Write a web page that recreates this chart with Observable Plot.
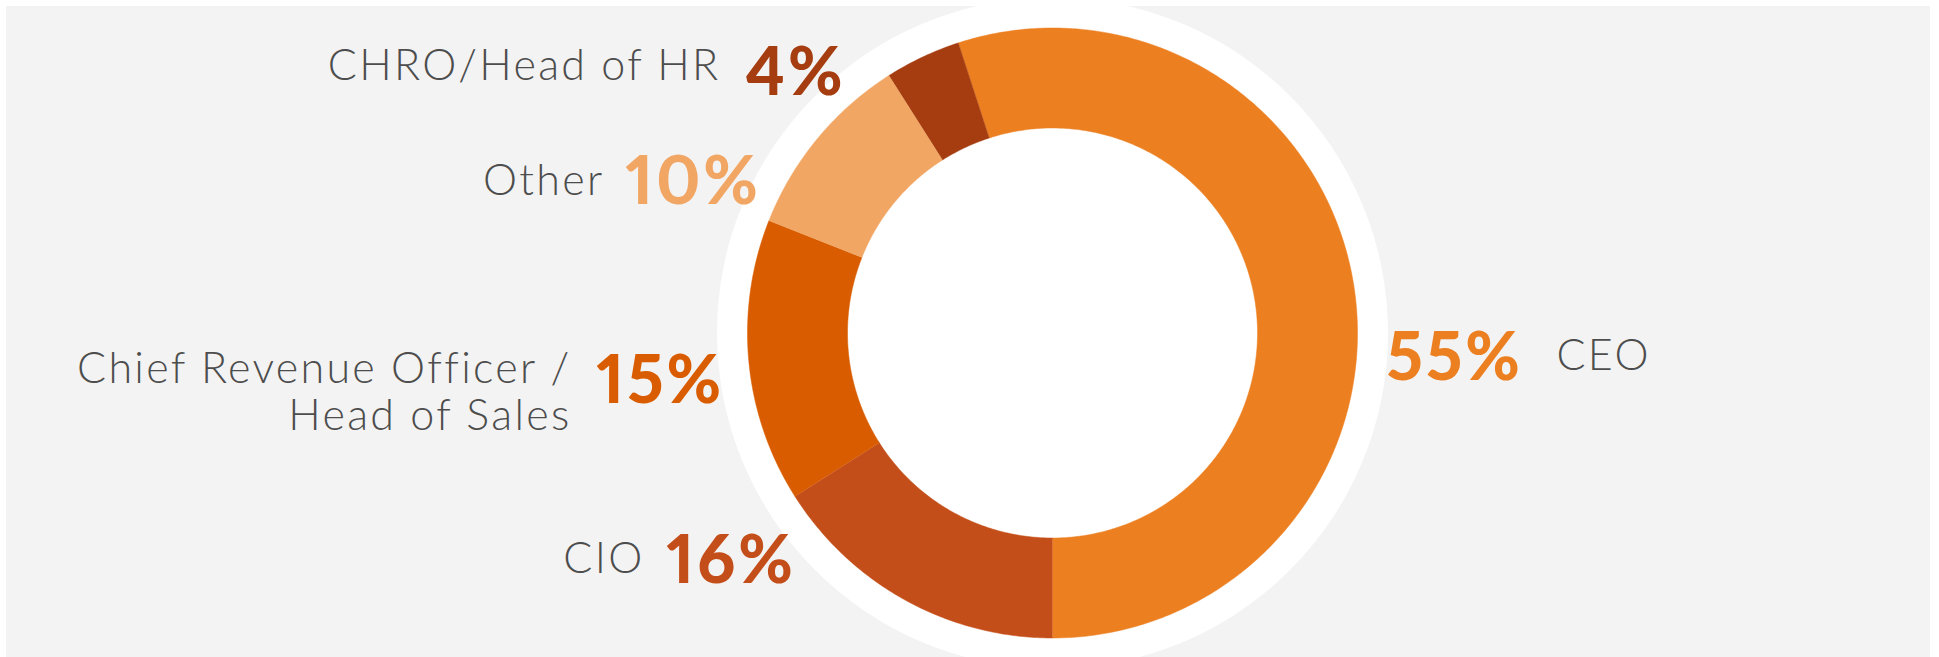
<!DOCTYPE html>
<html><head><meta charset="utf-8">
<script src="https://cdn.jsdelivr.net/npm/d3@7"></script>
<script src="https://cdn.jsdelivr.net/npm/@observablehq/plot@0.6"></script>
<style>
html,body{margin:0;padding:0;background:#fff;}
#chart{position:absolute;left:6px;top:6px;}
#chart g[font-weight="900"] text{letter-spacing:3px;font-variant-numeric:proportional-nums;font-feature-settings:"pnum" 1;}
#chart g[font-weight="300"] text{letter-spacing:2.3px;}
</style></head><body><div id="chart"></div>
<script>
// ---- data ----
const categories = ["CEO", "CIO", "Chief Revenue Officer /\nHead of Sales", "Other", "CHRO/Head of HR"];
const values = [55, 16, 15, 10, 4];
const pctLabels = ["55%", "16%", "15%", "10%", "4%"];
const colors = ["#EC7F20", "#C44E19", "#D95D00", "#F2A664", "#A53D10"];

// ---- layout (pixels within the SVG) ----
const W = 1924, H = 651;
const cx = 1046, cy = 326.5;
const rOuter = 305, rInner = 205, rHalo = 335.5;
const startDeg = -18;
// label anchors: [pctX, pctBaseline, labelX, labelBaseline, side]
const labelLayout = [
  [1380, 373, 1550, 363, "right"],
  [660, 576, 638, 566, "left"],
  [590, 396, 565, 423, "left"],
  [619, 197, 598, 188, "left"],
  [739, 88, 714, 73, "left"]
];

const total = d3.sum(values);
const segPts = [];
let acc = 0;
values.forEach((v, i) => {
  const a0 = (startDeg + acc / total * 360) * Math.PI / 180;
  acc += v;
  const a1 = (startDeg + acc / total * 360) * Math.PI / 180;
  const n = Math.max(8, Math.ceil((a1 - a0) / 0.01));
  for (let k = 0; k <= n; k++) {
    const a = a0 + (a1 - a0) * k / n;
    segPts.push({cat: categories[i], x: cx + rOuter * Math.sin(a), y: cy - rOuter * Math.cos(a)});
  }
  for (let k = n; k >= 0; k--) {
    const a = a0 + (a1 - a0) * k / n;
    segPts.push({cat: categories[i], x: cx + rInner * Math.sin(a), y: cy - rInner * Math.cos(a)});
  }
});

const pctData = categories.map((c, i) => ({cat: c, x: labelLayout[i][0], y: labelLayout[i][1], text: pctLabels[i]}));
const leftLabels = categories.map((c, i) => ({cat: c, x: labelLayout[i][2], y: labelLayout[i][3], text: c, side: labelLayout[i][4]}));

const labelFont = {fontSize: 43, fontWeight: 300, fontFamily: "Lato", fill: "#4D4D4D", lineAnchor: "bottom"};

const plot = Plot.plot({
  width: W, height: H,
  margin: 0,
  style: {background: "#F3F3F3", overflow: "hidden"},
  x: {type: "linear", domain: [0, W], range: [0, W], axis: null},
  y: {type: "linear", domain: [0, H], range: [0, H], axis: null},
  color: {domain: categories, range: colors},
  marks: [
    Plot.dot([{x: cx, y: cy}], {x: "x", y: "y", r: rHalo, fill: "white", stroke: "none"}),
    Plot.line(segPts, {x: "x", y: "y", z: "cat", fill: "cat", stroke: "cat", strokeWidth: 0.5, curve: "linear"}),
    Plot.text(pctData, {x: "x", y: "y", text: "text", fill: "cat", textAnchor: "start", lineAnchor: "bottom",
      fontSize: 66, fontWeight: 900, fontFamily: "Lato"}),
    Plot.text(leftLabels.filter(d => d.side === "left"), {x: "x", y: "y", text: "text", textAnchor: "end", lineHeight: 1.09, ...labelFont}),
    Plot.text(leftLabels.filter(d => d.side === "right"), {x: "x", y: "y", text: "text", textAnchor: "start", ...labelFont})
  ]
});
document.getElementById("chart").appendChild(plot);
</script>
</body></html>
